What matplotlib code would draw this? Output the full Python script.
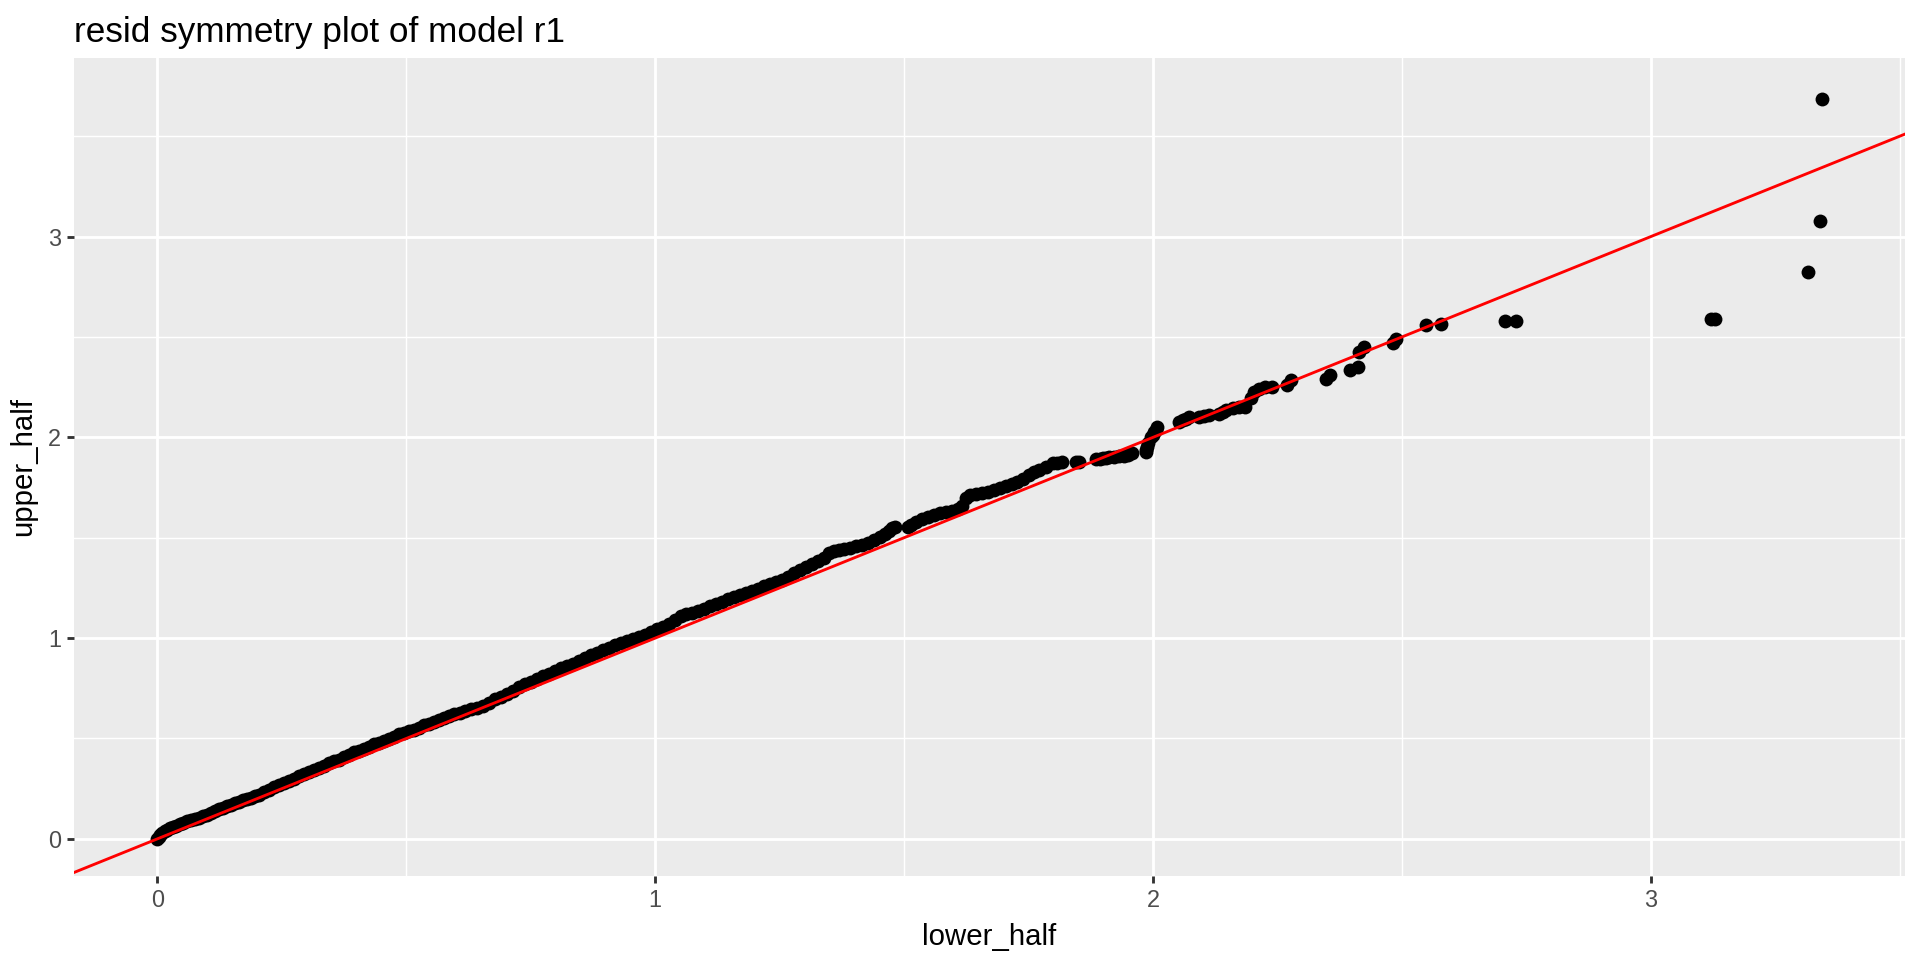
import matplotlib
matplotlib.use("Agg")
import matplotlib.pyplot as plt
from matplotlib.ticker import MultipleLocator

plt.rcParams['font.family'] = ['Liberation Sans', 'DejaVu Sans']

title = "resid symmetry plot of model r1"
x_label = "lower_half"
y_label = "upper_half"
x_ticks = [0, 1, 2, 3]
y_ticks = [0, 1, 2, 3]

lower_half = [
    0.000, 0.003, 0.006, 0.010, 0.015, 0.020, 0.026, 0.032, 0.038, 0.045, 0.052, 0.060, 0.068, 0.076, 0.084,
    0.092, 0.100, 0.108, 0.116, 0.124, 0.132, 0.140, 0.148, 0.156, 0.164, 0.172, 0.180, 0.188, 0.196,
    0.205, 0.215, 0.225, 0.235, 0.245, 0.255, 0.265, 0.275, 0.285, 0.295, 0.305, 0.315, 0.325, 0.335, 0.345,
    0.355, 0.365, 0.375, 0.385, 0.395, 0.405, 0.415, 0.425, 0.435, 0.445, 0.455, 0.465, 0.475, 0.485, 0.495,
    0.505, 0.515, 0.525, 0.535, 0.545, 0.555, 0.565, 0.575, 0.585, 0.595,
    0.607, 0.619, 0.631, 0.643, 0.655, 0.667, 0.679, 0.691, 0.703, 0.715, 0.727, 0.739, 0.751, 0.763, 0.775,
    0.787, 0.799, 0.811, 0.823, 0.835, 0.847, 0.859, 0.871, 0.883, 0.895, 0.907, 0.919, 0.931, 0.943, 0.955,
    0.967, 0.979, 0.991, 1.003, 1.015, 1.027, 1.039, 1.051, 1.063, 1.075, 1.087, 1.099, 1.111, 1.123, 1.135,
    1.147, 1.159, 1.171, 1.183, 1.195,
    1.207, 1.219, 1.231, 1.243, 1.255, 1.267, 1.279, 1.291, 1.303, 1.315, 1.327, 1.339, 1.350, 1.360, 1.370,
    1.380, 1.392, 1.404, 1.416, 1.428, 1.440, 1.452, 1.462, 1.470, 1.476, 1.481,
    1.509, 1.515, 1.525, 1.537, 1.549, 1.561, 1.573, 1.585, 1.597, 1.609, 1.617, 1.624, 1.632, 1.644, 1.656,
    1.668, 1.680, 1.692, 1.704, 1.716, 1.728, 1.740, 1.752, 1.762,
    1.771, 1.785, 1.799, 1.808, 1.818, 1.845, 1.852, 1.886, 1.893, 1.899, 1.906, 1.912, 1.922, 1.932, 1.941,
    1.949, 1.959, 1.986, 1.986, 1.988, 1.990, 1.996, 2.000, 2.003, 2.006, 2.009,
    2.053, 2.060, 2.067, 2.073, 2.093, 2.103, 2.113, 2.133, 2.140, 2.146, 2.160, 2.173, 2.186, 2.198, 2.203,
    2.213, 2.226, 2.240, 2.270, 2.277,
    2.348, 2.355, 2.395, 2.412, 2.415, 2.425, 2.482, 2.489, 2.549, 2.579, 2.707, 2.729,
    3.122, 3.130, 3.316, 3.341, 3.344,
]

upper_half = [
    0.000, 0.010, 0.020, 0.030, 0.040, 0.045, 0.052, 0.058, 0.065, 0.072, 0.080, 0.088, 0.094, 0.100, 0.106,
    0.112, 0.120, 0.130, 0.140, 0.148, 0.155, 0.162, 0.170, 0.178, 0.186, 0.192, 0.198, 0.205, 0.212,
    0.221, 0.232, 0.243, 0.257, 0.270, 0.279, 0.287, 0.298, 0.312, 0.325, 0.335, 0.343, 0.352, 0.365, 0.378,
    0.387, 0.395, 0.406, 0.419, 0.431, 0.440, 0.448, 0.459, 0.471, 0.480, 0.488, 0.497, 0.509, 0.520, 0.528,
    0.535, 0.543, 0.554, 0.565, 0.574, 0.582, 0.590, 0.602, 0.613, 0.621,
    0.629, 0.637, 0.645, 0.653, 0.663, 0.679, 0.695, 0.709, 0.723, 0.739, 0.755, 0.769, 0.783, 0.797, 0.811,
    0.822, 0.836, 0.850, 0.863, 0.873, 0.887, 0.901, 0.915, 0.926, 0.940, 0.953, 0.965, 0.975, 0.985, 0.995,
    1.005, 1.016, 1.029, 1.043, 1.057, 1.071, 1.089, 1.109, 1.119, 1.127, 1.137, 1.147, 1.160, 1.170, 1.180,
    1.193, 1.203, 1.214, 1.226, 1.237,
    1.247, 1.258, 1.269, 1.280, 1.292, 1.307, 1.324, 1.341, 1.355, 1.370, 1.383, 1.397, 1.422, 1.435, 1.440,
    1.444, 1.450, 1.457, 1.466, 1.476, 1.487, 1.502, 1.520, 1.536, 1.548, 1.556,
    1.555, 1.565, 1.579, 1.593, 1.603, 1.613, 1.623, 1.629, 1.635, 1.643, 1.657, 1.699, 1.712, 1.716, 1.722,
    1.728, 1.738, 1.748, 1.759, 1.770, 1.780, 1.795, 1.812, 1.826,
    1.837, 1.852, 1.870, 1.874, 1.878, 1.878, 1.878, 1.890, 1.892, 1.895, 1.898, 1.900, 1.903, 1.906, 1.908,
    1.911, 1.920, 1.936, 1.928, 1.950, 1.970, 2.000, 2.011, 2.025, 2.036, 2.052,
    2.077, 2.086, 2.094, 2.102, 2.102, 2.106, 2.110, 2.119, 2.127, 2.135, 2.144, 2.152, 2.152, 2.195, 2.225,
    2.243, 2.252, 2.252, 2.260, 2.285,
    2.293, 2.310, 2.335, 2.351, 2.426, 2.451, 2.468, 2.492, 2.559, 2.567, 2.580, 2.580,
    2.589, 2.589, 2.826, 3.080, 3.684,
]

ref_intercept = 0.0
ref_slope = 1.0

DPI = 192
fig = plt.figure(figsize=(1920 / DPI, 960 / DPI), dpi=DPI)
ax = fig.add_axes([74 / 1920, 1 - 876 / 960, (1905 - 74) / 1920, (876 - 58) / 960])
ax.set_facecolor('#EBEBEB')
for s in ax.spines.values():
    s.set_visible(False)

ax.set_xlim(-0.1675, 3.511)
ax.set_ylim(-0.185, 3.890)
ax.xaxis.set_minor_locator(MultipleLocator(0.5))
ax.yaxis.set_minor_locator(MultipleLocator(0.5))
ax.set_xticks(x_ticks)
ax.set_yticks(y_ticks)
ax.set_xticklabels([str(t) for t in x_ticks])
ax.set_yticklabels([str(t) for t in y_ticks])

ax.grid(which='major', color='white', linewidth=1.07)
ax.grid(which='minor', color='white', linewidth=0.53)
ax.set_axisbelow(True)
ax.tick_params(which='minor', length=0)
ax.tick_params(which='major', length=2.75, width=1.07, color='#333333',
               labelcolor='#4D4D4D', labelsize=8.8, pad=2.2)

ax.scatter(lower_half, upper_half, s=5.2 ** 2, color='black', linewidths=0, zorder=3)
ax.axline((0, ref_intercept), slope=ref_slope, color='red', linewidth=1.07, zorder=4)

ax.set_xlabel(x_label, fontsize=11, color='black', labelpad=4)
ax.set_ylabel(y_label, fontsize=11, color='black', labelpad=4)
fig.text(74 / 1920, 1 - 42 / 960, title, fontsize=13.2, color='black', ha='left', va='baseline')

fig.savefig('out.png', dpi=DPI)
